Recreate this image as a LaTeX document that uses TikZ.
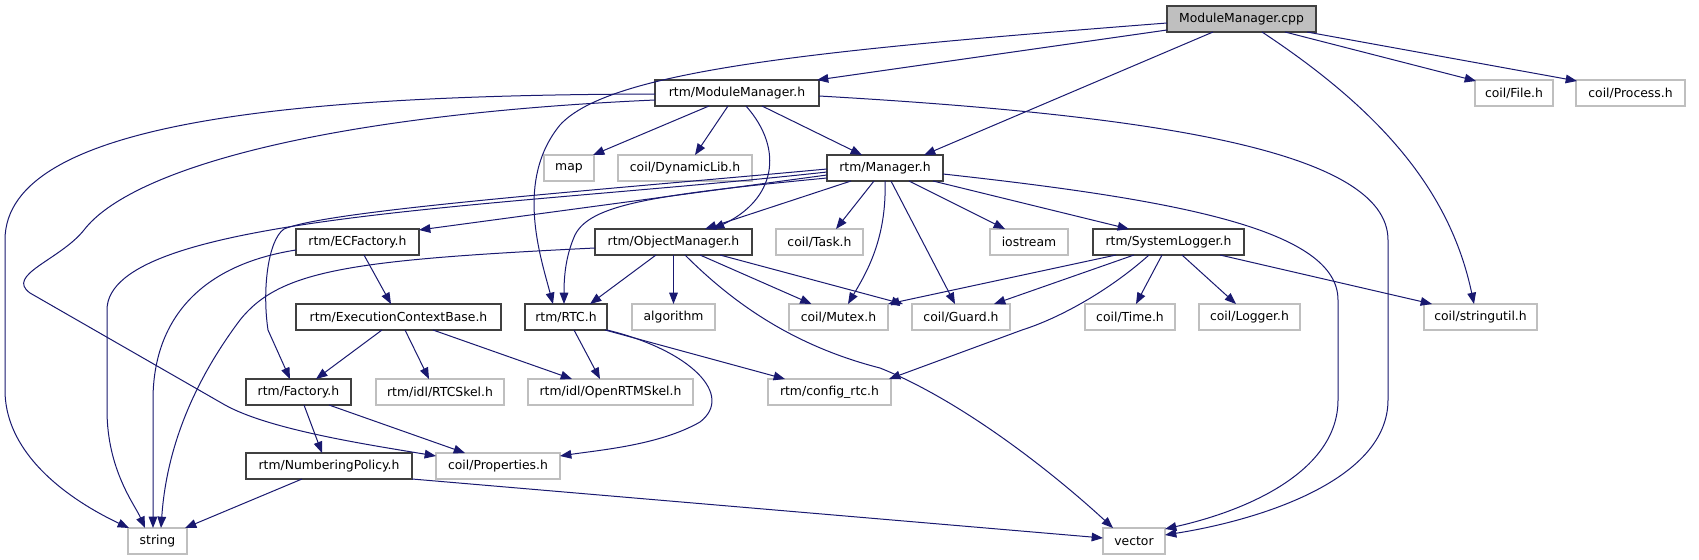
\documentclass[tikz,border=0pt]{standalone}
\usepackage{fontspec}
\setmainfont{DejaVu Sans}
\usetikzlibrary{arrows.meta,calc}
\definecolor{edgecol}{HTML}{191970}
\definecolor{docb}{HTML}{404040}
\definecolor{extb}{HTML}{BFBFBF}
\definecolor{cppfill}{HTML}{BFBFBF}
\begin{document}
\begin{tikzpicture}[x=0.75pt,y=-0.75pt,
  base/.style={rectangle, minimum height=19.5pt, inner sep=0pt, outer sep=0pt, line width=0.9pt, font=\fontsize{9.3}{11}\selectfont},
  doc/.style={base, draw=docb},
  ext/.style={base, draw=extb},
  cur/.style={base, draw=docb, fill=cppfill},
  bw/.style={minimum width=#1*0.75pt},
  dep/.style={draw=edgecol, line width=0.75pt, -{Triangle[length=8.5pt,width=6.5pt]}},
]
\useasboundingbox[fill=white] (0,0) rectangle (1699,560);
% rank 0
\node[cur,bw=149] (cpp) at (1241.5,19) {ModuleManager.cpp};
% rank 1
\node[doc,bw=164] (MMh) at (737,93) {rtm/ModuleManager.h};
\node[ext,bw=78] (File) at (1514,93) {coil/File.h};
\node[ext,bw=109] (Process) at (1630.5,93) {coil/Process.h};
% rank 2
\node[ext,bw=50] (map) at (569,168) {map};
\node[ext,bw=134] (DynLib) at (685,168) {coil/DynamicLib.h};
\node[doc,bw=116] (Manager) at (885,168) {rtm/Manager.h};
% rank 3
\node[doc,bw=123] (ECF) at (357.5,242) {rtm/ECFactory.h};
\node[doc,bw=157] (ObjMgr) at (673.5,242) {rtm/ObjectManager.h};
\node[ext,bw=87] (Task) at (819.5,242) {coil/Task.h};
\node[ext,bw=78] (iostream) at (1029,242) {iostream};
\node[doc,bw=151] (SysLog) at (1168.5,242) {rtm/SystemLogger.h};
% rank 4
\node[doc,bw=205] (ExecCtx) at (398.5,317) {rtm/ExecutionContextBase.h};
\node[doc,bw=82] (RTC) at (566,317) {rtm/RTC.h};
\node[ext,bw=83] (algorithm) at (673.5,317) {algorithm};
\node[ext,bw=99] (Mutex) at (838.5,317) {coil/Mutex.h};
\node[ext,bw=98] (Guard) at (961,317) {coil/Guard.h};
\node[ext,bw=90] (Time) at (1130,317) {coil/Time.h};
\node[ext,bw=101] (Logger) at (1249.5,317) {coil/Logger.h};
\node[ext,bw=113] (stringutil) at (1480.5,317) {coil/stringutil.h};
% rank 5
\node[doc,bw=105] (Factory) at (298.5,392) {rtm/Factory.h};
\node[ext,bw=128] (RTCSkel) at (440,392) {rtm/idl/RTCSkel.h};
\node[ext,bw=165] (OpenRTM) at (610.5,392) {rtm/idl/OpenRTMSkel.h};
\node[ext,bw=123] (config) at (829.5,392) {rtm/config\_rtc.h};
% rank 6
\node[doc,bw=166] (NumPol) at (329,466) {rtm/NumberingPolicy.h};
\node[ext,bw=124] (Props) at (498,466) {coil/Properties.h};
% rank 7
\node[ext,bw=59] (string) at (157.5,541) {string};
\node[ext,bw=62] (vector) at (1134,541) {vector};

% ModuleManager.cpp
\draw[dep] ($(cpp.west)+(0,11)$) -- ($(MMh.north east)+(-2,0)$);
\draw[dep] ($(cpp.south)+(-28.5,0)$) -- ($(Manager.north)+(39,0)$);
\draw[dep] ($(cpp.south)+(43.5,0)$) -- ($(File.north west)+(1,1)$);
\draw[dep] ($(cpp.south)+(65.5,0)$) -- ($(Process.north west)+(1,1)$);
\draw[dep] ($(cpp.south)+(20.5,0)$) .. controls (1380,110) and (1450,190) .. ($(stringutil.north)+(-6.5,0)$);
\draw[dep] ($(cpp.west)+(0,4)$) .. controls (820,50) and (610,70) .. (560,125) .. controls (515,180) and (540,255) .. ($(RTC.north)+(-13,0)$);
% ModuleManager.h
\draw[dep] ($(MMh.south)+(-28,0)$) -- ($(map.north east)+(-1,0)$);
\draw[dep] ($(MMh.south)+(-9,0)$) -- ($(DynLib.north)+(10,0)$);
\draw[dep] ($(MMh.south)+(25,0)$) -- ($(Manager.north)+(-23,0)$);
\draw[dep] ($(MMh.south)+(9,0)$) .. controls (785,150) and (775,200) .. ($(ObjMgr.north)+(39.5,0)$);
\draw[dep] ($(MMh.west)+(0,1)$) .. controls (300,95) and (5,120) .. (5,240) -- (5,390) .. controls (5,460) and (80,505) .. ($(string.north west)+(1,0)$);
\draw[dep] ($(MMh.west)+(0,7)$) .. controls (320,115) and (130,170) .. (84,230) .. controls (60,260) and (5,275) .. (30,293) -- (225,405) .. controls (270,430) and (370,445) .. ($(Props.north west)+(0,3)$);
\draw[dep] ($(MMh.east)+(0,3)$) .. controls (1150,115) and (1388,150) .. (1388,240) -- (1388,400) .. controls (1388,480) and (1260,520) .. ($(vector.east)+(0,-6)$);
% Manager.h
\draw[dep] ($(Manager.west)+(0,4)$) .. controls (500,208) and (107,215) .. (107,310) -- (107,410) .. controls (107,470) and (135,505) .. ($(string.north)+(-12.5,0)$);
\draw[dep] ($(Manager.west)+(0,1)$) .. controls (600,190) and (330,210) .. (284,229) .. controls (268,240) and (262,290) .. (268,330) -- ($(Factory.north)+(-8.5,0)$);
\draw[dep] ($(Manager.west)+(0,7)$) -- ($(ECF.north east)+(0,1)$);
\draw[dep] ($(Manager.south)+(-34,0)$) -- ($(ObjMgr.north)+(31.5,0)$);
\draw[dep] ($(Manager.west)+(0,10)$) .. controls (650,195) and (590,205) .. (575,235) .. controls (566,255) and (564,275) .. ($(RTC.north)+(-2,0)$);
\draw[dep] ($(Manager.south)+(-11,0)$) -- ($(Task.north)+(16.5,0)$);
\draw[dep] (Manager.south) .. controls (887,240) and (865,275) .. ($(Mutex.north)+(9.5,0)$);
\draw[dep] ($(Manager.south)+(6,0)$) -- ($(Guard.north)+(-6,0)$);
\draw[dep] ($(Manager.south)+(24,0)$) -- ($(iostream.north)+(-24,0)$);
\draw[dep] ($(Manager.south)+(48,0)$) -- ($(SysLog.north)+(-39.5,0)$);
\draw[dep] ($(Manager.east)+(0,6)$) .. controls (1180,200) and (1338,230) .. (1338,300) -- (1338,400) .. controls (1338,470) and (1250,510) .. ($(vector.north east)+(0,1)$);
% ECFactory.h
\draw[dep] ($(ECF.west)+(0,8)$) .. controls (200,265) and (153,320) .. (153,400) -- ($(string.north)+(-4.5,0)$);
\draw[dep] ($(ECF.south)+(6.5,0)$) -- ($(ExecCtx.north)+(-7.5,0)$);
% ObjectManager.h
\draw[dep] ($(ObjMgr.west)+(0,6)$) .. controls (350,260) and (280,270) .. (240,320) .. controls (180,400) and (165,470) .. ($(string.north)+(3.5,0)$);
\draw[dep] ($(ObjMgr.south)+(-17.5,0)$) -- ($(RTC.north)+(24,0)$);
\draw[dep] (ObjMgr.south) -- (algorithm.north);
\draw[dep] ($(ObjMgr.south)+(11.5,0)$) .. controls (730,300) and (790,345) .. (880,368) .. controls (960,400) and (1050,470) .. ($(vector.north)+(-21,0)$);
\draw[dep] ($(ObjMgr.south)+(26.5,0)$) -- ($(Mutex.north)+(-27,0)$);
\draw[dep] ($(ObjMgr.south)+(46.5,0)$) -- ($(Guard.north west)+(-9,0)$);
% SystemLogger.h
\draw[dep] ($(SysLog.south)+(-52.5,0)$) -- (Mutex.north east);
\draw[dep] ($(SysLog.south)+(-34.5,0)$) -- ($(Guard.north)+(33,0)$);
\draw[dep] ($(SysLog.south)+(-19.5,0)$) .. controls (1110,290) and (1060,318) .. (1022,330) -- ($(config.north east)+(-2,0)$);
\draw[dep] ($(SysLog.south)+(-6.5,0)$) -- ($(Time.north)+(6,0)$);
\draw[dep] ($(SysLog.south)+(13.5,0)$) -- ($(Logger.north)+(-13.5,0)$);
\draw[dep] ($(SysLog.south)+(51.5,0)$) -- ($(stringutil.north west)+(8,0)$);
% ExecutionContextBase.h
\draw[dep] ($(ExecCtx.south)+(-16.5,0)$) -- ($(Factory.north)+(17.5,0)$);
\draw[dep] ($(ExecCtx.south)+(6.5,0)$) -- ($(RTCSkel.north)+(-11,0)$);
\draw[dep] ($(ExecCtx.south)+(34.5,0)$) -- ($(OpenRTM.north)+(-38.5,0)$);
% RTC.h
\draw[dep] ($(RTC.south)+(8,0)$) -- ($(OpenRTM.north)+(-10.5,0)$);
\draw[dep] ($(RTC.south)+(39,0)$) -- ($(config.north)+(-44.5,0)$);
\draw[dep] (RTC.south east) .. controls (690,350) and (735,395) .. (700,422) .. controls (660,445) and (600,450) .. ($(Props.north east)+(0,3)$);
% Factory.h
\draw[dep] ($(Factory.south)+(5.5,0)$) -- ($(NumPol.north)+(-7,0)$);
\draw[dep] ($(Factory.south)+(30.5,0)$) -- ($(Props.north)+(-33,0)$);
% NumberingPolicy.h
\draw[dep] ($(NumPol.south)+(-27,0)$) -- ($(string.north east)+(-2,0)$);
\draw[dep] (NumPol.south east) -- ($(vector.west)+(0,-3)$);
\end{tikzpicture}
\end{document}
